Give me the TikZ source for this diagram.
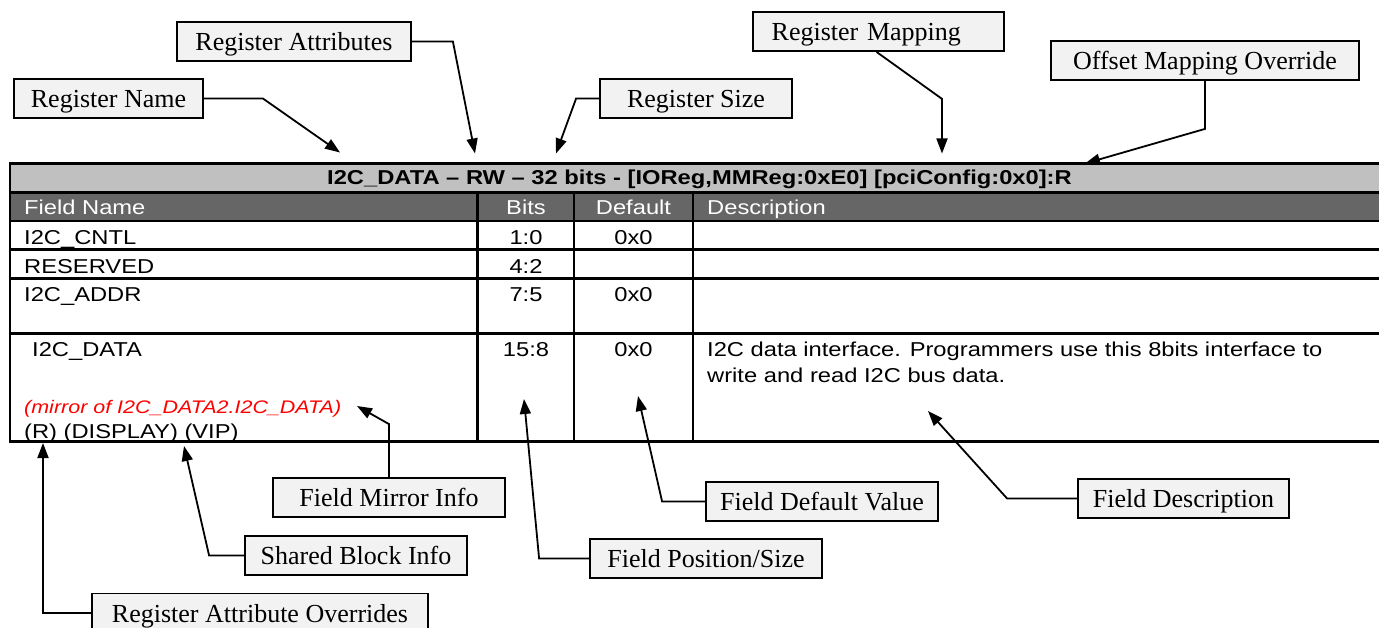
\documentclass[tikz,border=0pt]{standalone}
\usepackage{fontspec}
\setmainfont{Liberation Serif}
\newfontfamily\tsans[FakeStretch=1.18]{Liberation Sans}
\usetikzlibrary{arrows.meta}
\definecolor{hdrlight}{HTML}{C0C0C0}
\definecolor{hdrdark}{HTML}{666666}
\definecolor{boxfill}{HTML}{F2F2F2}
\definecolor{mirrorred}{HTML}{FF0000}

\begin{document}
\begin{tikzpicture}[x=1pt,y=-1pt,
  grid/.style={line width=2.6pt},
  cell/.style={inner sep=0pt, font=\tsans\fontsize{20.1}{24}\selectfont},
  headcell/.style={cell, text=white},
  mirrortext/.style={inner sep=0pt, text=mirrorred, font=\tsans\itshape\fontsize{18.2}{21}\selectfont},
  lbl/.style={draw, line width=1.8pt, fill=boxfill, minimum height=39pt,
    inner sep=0pt, text height=20pt, text depth=1.4pt,
    font=\fontsize{26}{30}\selectfont},
  conn/.style={line width=1.8pt, -{Triangle[length=15pt,width=11pt]}}
]
\clip (0,0) rectangle (1379,628);
\fill[white] (0,0) rectangle (1379,628);

% ---- register table ----
\fill[hdrlight] (10,163.3) rectangle (1382,192.3);
\fill[hdrdark]  (10,192.3) rectangle (1382,221);
\draw[grid] (1382,163.3) -- (10,163.3) -- (10,441.3) -- (1382,441.3);
\foreach \yy in {192.3,221,249.3,278.7,333.3}
  \draw[grid] (10,\yy) -- (1382,\yy);
\foreach \xx in {477.7,574,693}
  \draw[grid] (\xx,192.3) -- (\xx,441.3);

\node[cell, anchor=base] (title) at (699.5,185)
  {\bfseries I2C\_DATA – RW – 32 bits - [IOReg,MMReg:0xE0] [pciConfig:0x0]:R};

\node[headcell, anchor=base west] (hname) at (24,215) {Field Name};
\node[headcell, anchor=base] (hbits) at (526,215) {Bits};
\node[headcell, anchor=base] (hdef) at (633.5,215) {Default};
\node[headcell, anchor=base west] (hdesc) at (707,215) {Description};

\node[cell, anchor=base west] (n1) at (24,244.3) {I2C\_CNTL};
\node[cell, anchor=base] (b1) at (526,244.3) {1:0};
\node[cell, anchor=base] (d1) at (633.5,244.3) {0x0};

\node[cell, anchor=base west] (n2) at (24,273.3) {RESERVED};
\node[cell, anchor=base] (b2) at (526,273.3) {4:2};

\node[cell, anchor=base west] (n3) at (24,301.7) {I2C\_ADDR};
\node[cell, anchor=base] (b3) at (526,301.7) {7:5};
\node[cell, anchor=base] (d3) at (633.5,301.7) {0x0};

\node[cell, anchor=base west] (n4) at (32,356.7) {I2C\_DATA};
\node[cell, anchor=base] (b4) at (526,356.7) {15:8};
\node[cell, anchor=base] (d4) at (633.5,356.7) {0x0};
\node[cell, anchor=base west] (desc1) at (707,356.7)
  {I2C data interface. Programmers use this 8bits interface to};
\node[cell, anchor=base west] (desc2) at (707,382.4)
  {write and read I2C bus data.};
\node[mirrortext, anchor=base west] (mirror) at (24,413.3)
  {(mirror of I2C\_DATA2.I2C\_DATA)};
\node[cell, anchor=base west] (attrs) at (24,438.5) {(R) (DISPLAY) (VIP)};

% ---- arrow targets ----
\coordinate (tipName)   at (340,152.5);
\coordinate (tipAttr)   at (475,153.5);
\coordinate (tipSize)   at (556,153.5);
\coordinate (tipMap)    at (942,153.5);
\coordinate (tipOff)    at (1085,163.5);
\coordinate (tipMirror) at (357,406);
\coordinate (tipShared) at (184,446);
\coordinate (tipOverr)  at (43,443);
\coordinate (tipPos)    at (524,399);
\coordinate (tipDef)    at (638,396);
\coordinate (tipDesc)   at (928,411);

% ---- callout labels ----
\node[lbl, minimum width=189pt] (rname)  at (108.5,98.5) {Register Name};
\node[lbl, minimum width=234pt] (rattr)  at (294,41.5)   {Register Attributes};
\node[lbl, minimum width=192pt] (rsize)  at (696,98.5)   {Register Size};
\node[lbl, text width=213.6pt, inner xsep=18.7pt, align=left]
                                (rmap)   at (878.5,31.5) {Register Mapping};
\node[lbl, minimum width=308pt] (offmap) at (1205,60.5)  {Offset Mapping Override};
\node[lbl, minimum width=232pt] (fmirror) at (389,497.5) {Field Mirror Info};
\node[lbl, minimum width=222pt] (shared) at (356,555.5)  {Shared Block Info};
\node[lbl, minimum width=336pt] (overr)  at (260,613)    {Register Attribute Overrides};
\node[lbl, minimum width=232pt] (fpos)   at (706,558.5)  {Field Position/Size};
\node[lbl, minimum width=232pt] (fdef)   at (822,501.5)  {Field Default Value};
\node[lbl, minimum width=211pt] (fdesc)  at (1183.5,498.5) {Field Description};

% ---- connectors ----
\draw[conn] (rname.east) -- ++(59,0) -- (tipName);
\draw[conn] (rattr.east) -- ++(41,0) -- (tipAttr);
\draw[conn] (rsize.west) -- ++(-23,0) -- (tipSize);
\draw[conn] ([xshift=-2pt]rmap.south) -- ++(65.5,47) -- (tipMap);
\draw[conn] (offmap.south) -- ++(0,48) -- (tipOff);
\draw[conn] (fmirror.north) -- ++(0,-53) -- (tipMirror);
\draw[conn] (shared.west) -- ++(-35,0) -- (tipShared);
\draw[conn] (overr.west) -| (tipOverr);
\draw[conn] (fpos.west) -- ++(-50,0) -- (tipPos);
\draw[conn] (fdef.west) -- ++(-43,0) -- (tipDef);
\draw[conn] (fdesc.west) -- ++(-70,0) -- (tipDesc);
\end{tikzpicture}
\end{document}
